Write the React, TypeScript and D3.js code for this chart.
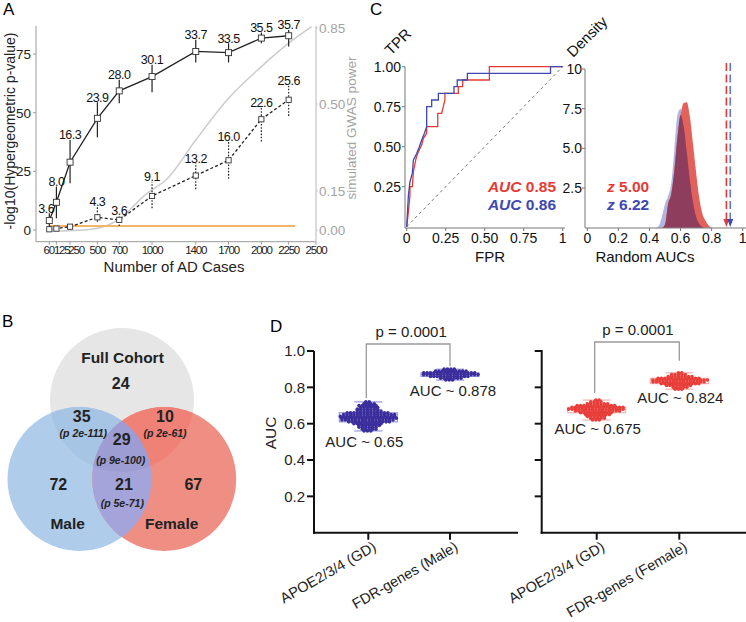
import React from "react";
import * as d3 from "d3";

const FONT = "'Liberation Sans', Arial, Helvetica, sans-serif";

// ---------- Panel A data ----------
const nCases = [60, 125, 250, 500, 700, 1000, 1400, 1700, 2000, 2250];
const fullMean = [4.0, 11.8, 28.9, 47.6, 59.3, 65.4, 76.1, 75.6, 81.8, 82.8];
const fullLo = [1.4, 5.0, 19.9, 39.5, 54.0, 58.7, 71.4, 71.4, 79.6, 78.2];
const fullHi = [7.1, 18.5, 38.4, 54.5, 64.0, 70.4, 81.1, 79.6, 84.2, 85.3];
const fullLabels = ["3.6", "8.0", "16.3", "23.9", "28.0", "30.1", "33.7", "33.5", "35.5", "35.7"];
const sexMean = [0.3, 0.6, 1.4, 5.4, 4.3, 14.5, 23.2, 29.7, 47.2, 55.5];
const sexLo = [0.0, 0.1, 0.9, 3.5, 1.7, 9.3, 17.4, 21.8, 37.7, 48.6];
const sexHi = [0.6, 1.1, 1.9, 9.9, 6.0, 20.6, 28.5, 37.7, 52.3, 61.4];
const sexLabels = ["", "", "", "4.3", "3.6", "9.1", "13.2", "16.0", "22.6", "25.6"];
const powerN = [60, 450, 700, 950, 1134, 1400, 1700, 2000, 2250, 2460];
const powerVal = [-0.005, 0.003, 0.042, 0.14, 0.197, 0.355, 0.526, 0.672, 0.78, 0.856];
const thresholdLevel = 1.7;
const xTicksA = [60, 125, 250, 500, 700, 1000, 1400, 1700, 2000, 2250, 2500];
const yTicksA = [0, 25, 50, 75];
const powerTicks = [0, 0.15, 0.5, 0.85];
const powerTickLabels = ["0.00", "0.15", "0.50", "0.85"];

// ---------- Panel B data ----------
const vennSets = ["Full Cohort", "Male", "Female"];
const vennOnly = [24, 72, 67];
const vennPairs = [35, 10, 21]; // full&male, full&female, male&female
const vennPairP = ["(p 2e-111)", "(p 2e-61)", "(p 5e-71)"];
const vennAll = 29;
const vennAllP = "(p 9e-100)";

// ---------- Panel C data ----------
const rocRedFpr = [0, 0.011, 0.021, 0.021, 0.036, 0.043, 0.06, 0.075, 0.096, 0.107, 0.128, 0.128, 0.199, 0.199, 0.224, 0.245, 0.245, 0.331, 0.331, 0.359, 0.359, 0.53, 0.53, 1];
const rocRedTpr = [0, 0.094, 0.198, 0.25, 0.25, 0.344, 0.427, 0.469, 0.51, 0.552, 0.583, 0.625, 0.625, 0.708, 0.708, 0.792, 0.833, 0.833, 0.875, 0.875, 0.917, 0.917, 1, 1];
const rocBlueFpr = [0, 0.011, 0.021, 0.036, 0.043, 0.064, 0.081, 0.096, 0.113, 0.128, 0.128, 0.16, 0.16, 0.203, 0.203, 0.303, 0.303, 0.324, 0.324, 0.389, 0.389, 0.922, 0.922, 1];
const rocBlueTpr = [0, 0.198, 0.281, 0.333, 0.417, 0.458, 0.5, 0.542, 0.583, 0.625, 0.75, 0.75, 0.792, 0.792, 0.833, 0.833, 0.875, 0.875, 0.917, 0.917, 0.958, 0.958, 1, 1];
const aucLabels = ["0.85", "0.86"];
const zLabels = ["5.00", "6.22"];
const densX = [0.44, 0.46, 0.48, 0.5, 0.52, 0.54, 0.56, 0.58, 0.6, 0.62, 0.64, 0.66, 0.68, 0.7, 0.72, 0.74, 0.76, 0.78, 0.8];
const densBlue = [0, 0.1, 0.7, 1.5, 2.0, 2.8, 4.9, 7.1, 7.5, 6.4, 4.8, 3.0, 1.6, 0.7, 0.25, 0.05, 0, 0, 0];
const densRed = [0, 0, 0, 0.2, 1.5, 2.1, 3.6, 5.7, 7.1, 7.85, 7.9, 7.0, 5.3, 3.5, 1.9, 0.9, 0.45, 0.15, 0];
const observedAuc = [0.895, 0.92]; // red, blue arrows
const rocTicks = [0, 0.25, 0.5, 0.75, 1];
const rocTickLabels = ["0", "0.25", "0.50", "0.75", "1"];
const rocYLabels = ["0.25", "0.50", "0.75", "1.00"];
const densXTicks = [0, 0.2, 0.4, 0.6, 0.8, 1];
const densXLabels = ["0", "0.2", "0.4", "0.6", "0.8", "1"];
const densYTicks = [2.5, 5, 7.5, 10];
const densYLabels = ["2.5", "5.0", "7.5", "10"];

// ---------- Panel D data (AUC histograms, bin step 0.01) ----------
const maleCats = ["APOE2/3/4 (GD)", "FDR-genes (Male)"];
const femaleCats = ["APOE2/3/4 (GD)", "FDR-genes (Female)"];
const maleApoeStart = 0.56;
const maleApoeCounts = [3, 5, 6, 7, 9, 13, 16, 17, 17, 16, 13, 8, 7, 6, 6, 4, 2];
const maleFdrStart = 0.84;
const maleFdrCounts = [3, 7, 12, 17, 16, 10, 4];
const femaleApoeStart = 0.62;
const femaleApoeCounts = [3, 5, 6, 8, 10, 14, 17, 16, 12, 7, 4, 2];
const femaleFdrStart = 0.79;
const femaleFdrCounts = [3, 5, 8, 12, 16, 17, 13, 8, 5, 2];
const maleAucText = ["AUC ~ 0.65", "AUC ~ 0.878"];
const femaleAucText = ["AUC ~ 0.675", "AUC ~ 0.824"];
const pText = "p = 0.0001";
const aucTicks = [0.2, 0.4, 0.6, 0.8, 1.0];

const RED = "#e63b35";
const BLUE = "#3e47b2";

function PanelA() {
  const x = d3.scaleLinear().domain([60, 2500]).range([49.3, 316]);
  const y = d3.scaleLinear().domain([-5, 87]).range([241.7, 25.9]);
  const yR = d3.scaleLinear().domain([0, 0.15, 0.5, 0.85]).range([230, 191, 104, 28]);
  const idx = d3.range(nCases.length);
  const lineFull = d3.line<number>().x((i) => x(nCases[i])).y((i) => y(fullMean[i]));
  const lineSex = d3.line<number>().x((i) => x(nCases[i])).y((i) => y(sexMean[i]));
  const powerLine = d3
    .line<number>()
    .x((i) => x(powerN[i]))
    .y((i) => yR(powerVal[i]))
    .curve(d3.curveMonotoneX);
  const axisY = y(-5);
  // the first crowded labels are pushed apart as in the original
  const labelShift = (i: number) => (i === 0 ? -0.5 : i === 1 ? 5.3 : i === 2 ? 6 : 0);
  return (
    <g>
      <text x={3} y={15} fontSize={17}>A</text>
      <line x1={36} x2={36} y1={y(87)} y2={axisY} stroke="#9a9a9a" />
      <line x1={36} x2={316} y1={axisY} y2={axisY} stroke="#9a9a9a" />
      <line x1={316} x2={316} y1={y(87)} y2={axisY} stroke="#c8c8c8" strokeWidth={1.3} />
      {yTicksA.map((t) => (
        <g key={t}>
          <line x1={33} x2={36} y1={y(t)} y2={y(t)} stroke="#9a9a9a" />
          <text x={31} y={y(t)} dy="0.36em" textAnchor="end" fontSize={13.5} fill="#222">{t}</text>
        </g>
      ))}
      {xTicksA.map((t, i) => (
        <g key={t}>
          <line x1={x(t)} x2={x(t)} y1={axisY} y2={axisY + 3} stroke="#9a9a9a" />
          <text x={x(t) + labelShift(i)} y={axisY + 12} textAnchor="middle" fontSize={11.5} letterSpacing={-1.2} fill="#222">{t}</text>
        </g>
      ))}
      {powerTicks.map((t, i) => (
        <g key={t}>
          <line x1={316} x2={318} y1={yR(t)} y2={yR(t)} stroke="#c8c8c8" />
          <text x={319} y={yR(t)} dy="0.36em" fontSize={13.5} fill="#a3a3a3">{powerTickLabels[i]}</text>
        </g>
      ))}
      <text transform="translate(15,131) rotate(-90)" textAnchor="middle" fontSize={14} fill="#222">
        -log10(Hypergeometric p-value)
      </text>
      <text transform="translate(356,128) rotate(-90)" textAnchor="middle" fontSize={13.5} fill="#a3a3a3">
        simulated GWAS power
      </text>
      <text x={174} y={272} textAnchor="middle" fontSize={15} fill="#222">Number of AD Cases</text>

      <path d={powerLine(d3.range(powerN.length)) || ""} fill="none" stroke="#cccccc" strokeWidth={1.5} />
      <line x1={x(60)} x2={x(2310)} y1={y(thresholdLevel)} y2={y(thresholdLevel)} stroke="#f1b56c" strokeWidth={2.2} />

      {idx.map((i) => (
        <line key={"se" + i} x1={x(nCases[i])} x2={x(nCases[i])} y1={y(sexLo[i])} y2={y(sexHi[i])} stroke="#222" strokeWidth={1.2} strokeDasharray="1.6,1.6" />
      ))}
      <path d={lineSex(idx) || ""} fill="none" stroke="#222" strokeWidth={1.3} strokeDasharray="3,2.2" />
      {idx.map((i) => (
        <rect key={"sr" + i} x={x(nCases[i]) - 2.6} y={y(sexMean[i]) - 2.6} width={5.2} height={5.2} fill="#fff" stroke="#333" strokeWidth={0.9} />
      ))}
      {idx.map((i) =>
        sexLabels[i] ? (
          <text key={"sl" + i} x={x(nCases[i])} y={y(sexHi[i]) - 0.5} textAnchor="middle" fontSize={12.5} letterSpacing={-0.5} fill="#111">{sexLabels[i]}</text>
        ) : null
      )}

      {idx.map((i) => (
        <line key={"fe" + i} x1={x(nCases[i])} x2={x(nCases[i])} y1={y(fullLo[i])} y2={y(fullHi[i])} stroke="#222" strokeWidth={1.2} />
      ))}
      <path d={lineFull(idx) || ""} fill="none" stroke="#222" strokeWidth={1.3} />
      {idx.map((i) => (
        <rect key={"fr" + i} x={x(nCases[i]) - 3} y={y(fullMean[i]) - 3} width={6} height={6} fill="#fff" stroke="#333" strokeWidth={0.9} />
      ))}
      {idx.map((i) => (
        <text key={"fl" + i} x={x(nCases[i]) - (i === 0 ? 3 : 0)} y={y(fullHi[i]) - 0.5} textAnchor="middle" fontSize={12.5} letterSpacing={-0.5} fill="#111">{fullLabels[i]}</text>
      ))}
    </g>
  );
}

function PanelB() {
  const r = 72;
  const cTop = { x: 122, y: 400 };
  const cL = { x: 79.5, y: 479 };
  const cR = { x: 164.2, y: 479 };
  const big = { fontSize: 16, fontWeight: "bold" as const, textAnchor: "middle" as const, fill: "#222" };
  const small = { fontSize: 10.5, fontWeight: "bold" as const, fontStyle: "italic" as const, textAnchor: "middle" as const, fill: "#222" };
  return (
    <g>
      <defs>
        <clipPath id="clipTop"><circle cx={cTop.x} cy={cTop.y} r={r} /></clipPath>
        <clipPath id="clipL"><circle cx={cL.x} cy={cL.y} r={r} /></clipPath>
      </defs>
      <text x={2} y={327} fontSize={17}>B</text>
      <circle cx={cTop.x} cy={cTop.y} r={r} fill="#e6e6e6" />
      <circle cx={cL.x} cy={cL.y} r={r} fill="#afcdea" />
      <circle cx={cR.x} cy={cR.y} r={r} fill="#ef8f84" />
      <circle cx={cL.x} cy={cL.y} r={r} fill="#a6c4e3" clipPath="url(#clipTop)" />
      <circle cx={cR.x} cy={cR.y} r={r} fill="#f08177" clipPath="url(#clipTop)" />
      <circle cx={cR.x} cy={cR.y} r={r} fill="#a5a4da" clipPath="url(#clipL)" />
      <g clipPath="url(#clipTop)">
        <circle cx={cR.x} cy={cR.y} r={r} fill="#9d9cd3" clipPath="url(#clipL)" />
      </g>

      <text x={122.5} y={362.5} {...big} fontSize={15.5}>{vennSets[0]}</text>
      <text x={120.7} y={388.5} {...big}>{vennOnly[0]}</text>
      <text x={67.7} y={528.5} {...big} fontSize={15.5}>{vennSets[1]}</text>
      <text x={171.7} y={528.5} {...big} fontSize={15.5}>{vennSets[2]}</text>
      <text x={58.3} y={489.5} {...big}>{vennOnly[1]}</text>
      <text x={193.3} y={489.5} {...big}>{vennOnly[2]}</text>
      <text x={81.7} y={421.7} {...big}>{vennPairs[0]}</text>
      <text x={83.3} y={436.5} {...small}>{vennPairP[0]}</text>
      <text x={165} y={421.7} {...big}>{vennPairs[1]}</text>
      <text x={165} y={436.5} {...small}>{vennPairP[1]}</text>
      <text x={124} y={489.5} {...big}>{vennPairs[2]}</text>
      <text x={122.3} y={507} {...small}>{vennPairP[2]}</text>
      <text x={121.7} y={445} {...big}>{vennAll}</text>
      <text x={120.7} y={463.5} {...small}>{vennAllP}</text>
    </g>
  );
}

function PanelC() {
  const xr = d3.scaleLinear().domain([0, 1]).range([406.7, 562.7]);
  const yr = d3.scaleLinear().domain([0, 1]).range([226.7, 66.7]);
  const xd = d3.scaleLinear().domain([0, 1]).range([587.3, 742.7]);
  const yd = d3.scaleLinear().domain([0, 10]).range([227.7, 69]);
  const roc = (fpr: number[], tpr: number[]) =>
    d3.line<number>().x((i) => xr(fpr[i])).y((i) => yr(tpr[i]))(d3.range(fpr.length)) || "";
  const area = (vals: number[]) =>
    d3
      .area<number>()
      .x((i) => xd(densX[i]))
      .y0(yd(0))
      .y1((i) => yd(vals[i]))
      .curve(d3.curveMonotoneX)(d3.range(densX.length)) || "";
  const overlap = densX.map((_, i) => Math.min(densBlue[i], densRed[i]));
  const arrowColors = [RED, "#6c74c6"];
  return (
    <g>
      <text x={370} y={15} fontSize={17}>C</text>
      <line x1={405} x2={405} y1={yr(1)} y2={228} stroke="#777" />
      <line x1={405} x2={565} y1={228} y2={228} stroke="#777" />
      {rocTicks.map((t, i) => (
        <g key={"rx" + t}>
          <line x1={xr(t)} x2={xr(t)} y1={228} y2={231} stroke="#777" />
          <text x={xr(t)} y={243} textAnchor="middle" fontSize={14} fill="#111">{rocTickLabels[i]}</text>
        </g>
      ))}
      {rocTicks.slice(1).map((t, i) => (
        <g key={"ry" + t}>
          <line x1={402} x2={405} y1={yr(t)} y2={yr(t)} stroke="#777" />
          <text x={401} y={yr(t)} dy="0.36em" textAnchor="end" fontSize={14} fill="#111">{rocYLabels[i]}</text>
        </g>
      ))}
      <line x1={xr(0)} y1={yr(0)} x2={xr(1)} y2={yr(1)} stroke="#555" strokeWidth={0.8} strokeDasharray="3,3" />
      <path d={roc(rocRedFpr, rocRedTpr)} fill="none" stroke={RED} strokeWidth={1.3} />
      <path d={roc(rocBlueFpr, rocBlueTpr)} fill="none" stroke={BLUE} strokeWidth={1.3} />
      <text x={556} y={192} textAnchor="end" fontSize={15.5} fontWeight="bold" fill={RED}>
        <tspan fontStyle="italic">AUC</tspan> {aucLabels[0]}
      </text>
      <text x={556} y={210} textAnchor="end" fontSize={15.5} fontWeight="bold" fill={BLUE}>
        <tspan fontStyle="italic">AUC</tspan> {aucLabels[1]}
      </text>
      <text transform="translate(391,56) rotate(-45)" fontSize={15} fill="#111">TPR</text>
      <text x={490} y={262} textAnchor="middle" fontSize={15} fill="#111">FPR</text>

      <path d={area(densBlue)} fill="#b1b6df" />
      <path d={area(densRed)} fill="#e2625b" />
      <path d={area(overlap)} fill="#8e3d5d" />
      <line x1={585} x2={585} y1={yd(10)} y2={228} stroke="#777" />
      <line x1={585} x2={746} y1={228} y2={228} stroke="#777" />
      {densYTicks.map((t, i) => (
        <g key={"dy" + t}>
          <line x1={582} x2={585} y1={yd(t)} y2={yd(t)} stroke="#777" />
          <text x={582} y={yd(t)} dy="0.36em" textAnchor="end" fontSize={14} fill="#111">{densYLabels[i]}</text>
        </g>
      ))}
      {densXTicks.map((t, i) => (
        <g key={"dx" + t}>
          <line x1={xd(t)} x2={xd(t)} y1={228} y2={231} stroke="#777" />
          <text x={xd(t)} y={243} textAnchor="middle" fontSize={14} fill="#111">{densXLabels[i]}</text>
        </g>
      ))}
      {observedAuc.map((v, i) => (
        <g key={"ar" + i}>
          <line x1={xd(v)} x2={xd(v)} y1={63} y2={220} stroke={arrowColors[i]} strokeWidth={1.6} strokeDasharray="8,3.5" />
          <path d={`M${xd(v) - 3},219 L${xd(v) + 3},219 L${xd(v)},227 Z`} fill={i === 0 ? RED : BLUE} />
        </g>
      ))}
      <text x={607} y={192} fontSize={15.5} fontWeight="bold" fill={RED}>
        <tspan fontStyle="italic">z</tspan> {zLabels[0]}
      </text>
      <text x={607} y={210} fontSize={15.5} fontWeight="bold" fill={BLUE}>
        <tspan fontStyle="italic">z</tspan> {zLabels[1]}
      </text>
      <text transform="translate(573,58) rotate(-45)" fontSize={15} fill="#111">Density</text>
      <text x={645} y={262} textAnchor="middle" fontSize={15} fill="#111">Random AUCs</text>
    </g>
  );
}

function Swarm({ cx, start, counts, y, dot, box }: { cx: number; start: number; counts: number[]; y: d3.ScaleLinear<number, number>; dot: string; box: string }) {
  const values: number[] = [];
  counts.forEach((c, k) => {
    for (let j = 0; j < c; j++) values.push(start + k * 0.01);
  });
  values.sort(d3.ascending);
  const q1 = d3.quantile(values, 0.25)!;
  const q3 = d3.quantile(values, 0.75)!;
  const med = d3.quantile(values, 0.5)!;
  const lo = d3.min(values)!;
  const hi = d3.max(values)!;
  const hw = 29;
  const sp = 3.4;
  return (
    <g>
      <line x1={cx} x2={cx} y1={y(lo)} y2={y(hi)} stroke={box} strokeWidth={1} />
      <rect x={cx - hw} y={y(q3)} width={hw * 2} height={y(q1) - y(q3)} fill="none" stroke={box} strokeWidth={1} />
      <line x1={cx - hw} x2={cx + hw} y1={y(med)} y2={y(med)} stroke={box} strokeWidth={1} />
      <line x1={cx - 14} x2={cx + 14} y1={y(lo)} y2={y(lo)} stroke={box} strokeWidth={1} />
      <line x1={cx - 14} x2={cx + 14} y1={y(hi)} y2={y(hi)} stroke={box} strokeWidth={1} />
      {counts.map((c, k) =>
        d3.range(c).map((j) => (
          <circle key={k + "-" + j} cx={cx + (j - (c - 1) / 2) * sp + (k % 2 ? 0.8 : -0.8)} cy={y(start + k * 0.01)} r={1.8} fill={dot} />
        ))
      )}
    </g>
  );
}

function PanelD() {
  const y = d3.scaleLinear().domain([0, 1]).range([532.7, 351]);
  const xm = d3.scalePoint<string>().domain(maleCats).range([368.3, 450]);
  const xf = d3.scalePoint<string>().domain(femaleCats).range([596.7, 679.3]);
  const male = [
    { start: maleApoeStart, counts: maleApoeCounts },
    { start: maleFdrStart, counts: maleFdrCounts },
  ];
  const female = [
    { start: femaleApoeStart, counts: femaleApoeCounts },
    { start: femaleFdrStart, counts: femaleFdrCounts },
  ];
  const maleDot = "#3b2e9c";
  const maleBox = "#8186da";
  const femDot = "#e83f3a";
  const femBox = "#f3a5a3";
  const top = (g: { start: number; counts: number[] }) => y(g.start + (g.counts.length - 1) * 0.01);
  const bottom = (g: { start: number; counts: number[] }) => y(g.start);
  const bracket = (x1: number, x2: number, yTop: number, l1: number, l2: number) => (
    <path d={`M${x1},${l1} L${x1},${yTop} L${x2},${yTop} L${x2},${l2}`} fill="none" stroke="#9a9a9a" strokeWidth={1.3} />
  );
  const catLabel = (x: number, s: string, k: string) => (
    <text key={k} transform={`translate(${x + 9},${y(0) + 17}) rotate(-30)`} textAnchor="end" fontSize={14.5} fill="#222">{s}</text>
  );
  return (
    <g>
      <text x={270} y={332} fontSize={17}>D</text>
      <line x1={314} x2={314} y1={y(1)} y2={y(0) + 1} stroke="#111" strokeWidth={2} />
      <line x1={313} x2={518} y1={y(0)} y2={y(0)} stroke="#111" strokeWidth={2} />
      {aucTicks.map((t) => (
        <g key={"l" + t}>
          <line x1={307} x2={314} y1={y(t)} y2={y(t)} stroke="#111" strokeWidth={2} />
          <text x={305} y={y(t)} dy="0.36em" textAnchor="end" fontSize={15} fill="#222">{t.toFixed(1)}</text>
        </g>
      ))}
      {maleCats.map((c) => (
        <line key={"mt" + c} x1={xm(c)} x2={xm(c)} y1={y(0)} y2={y(0) + 7} stroke="#111" strokeWidth={2} />
      ))}
      <text transform="translate(276,433) rotate(-90)" textAnchor="middle" fontSize={15.5} fill="#222">AUC</text>
      <line x1={541.7} x2={541.7} y1={y(1) - 1} y2={y(0) + 1} stroke="#111" strokeWidth={2} />
      <line x1={540.7} x2={746} y1={y(0)} y2={y(0)} stroke="#111" strokeWidth={2} />
      {aucTicks.map((t) => (
        <line key={"r" + t} x1={534.7} x2={541.7} y1={y(t)} y2={y(t)} stroke="#111" strokeWidth={2} />
      ))}
      {femaleCats.map((c) => (
        <line key={"ft" + c} x1={xf(c)} x2={xf(c)} y1={y(0)} y2={y(0) + 7} stroke="#111" strokeWidth={2} />
      ))}
      {maleCats.map((c) => catLabel(xm(c)!, c, "ml" + c))}
      {femaleCats.map((c) => catLabel(xf(c)!, c, "fl" + c))}

      {male.map((g, i) => (
        <Swarm key={"m" + i} cx={xm(maleCats[i])!} start={g.start} counts={g.counts} y={y} dot={maleDot} box={maleBox} />
      ))}
      {female.map((g, i) => (
        <Swarm key={"f" + i} cx={xf(femaleCats[i])!} start={g.start} counts={g.counts} y={y} dot={femDot} box={femBox} />
      ))}
      {male.map((g, i) => (
        <text key={"mtx" + i} x={xm(maleCats[i])! + (i === 0 ? -4 : 3)} y={bottom(g) + 16} textAnchor="middle" fontSize={15} fill="#222">{maleAucText[i]}</text>
      ))}
      {female.map((g, i) => (
        <text key={"ftx" + i} x={xf(femaleCats[i])! + 1} y={bottom(g) + 14} textAnchor="middle" fontSize={15} fill="#222">{femaleAucText[i]}</text>
      ))}
      {bracket(xm(maleCats[0])! - 2, xm(maleCats[1])!, y(1) - 7, top(male[0]) - 4, top(male[1]) - 3)}
      <text x={(xm(maleCats[0])! + xm(maleCats[1])!) / 2 + 2} y={y(1) - 14} textAnchor="middle" fontSize={15} fill="#222">{pText}</text>
      {bracket(xf(femaleCats[0])! - 2, xf(femaleCats[1])!, y(1) - 9, top(female[0]) - 7, top(female[1]) - 12)}
      <text x={(xf(femaleCats[0])! + xf(femaleCats[1])!) / 2} y={y(1) - 16} textAnchor="middle" fontSize={15} fill="#222">{pText}</text>
    </g>
  );
}

export default function App() {
  return (
    <svg width={746} height={622} style={{ position: "absolute", left: 0, top: 0, background: "#fff" }} fontFamily={FONT}>
      <PanelA />
      <PanelB />
      <PanelC />
      <PanelD />
    </svg>
  );
}
